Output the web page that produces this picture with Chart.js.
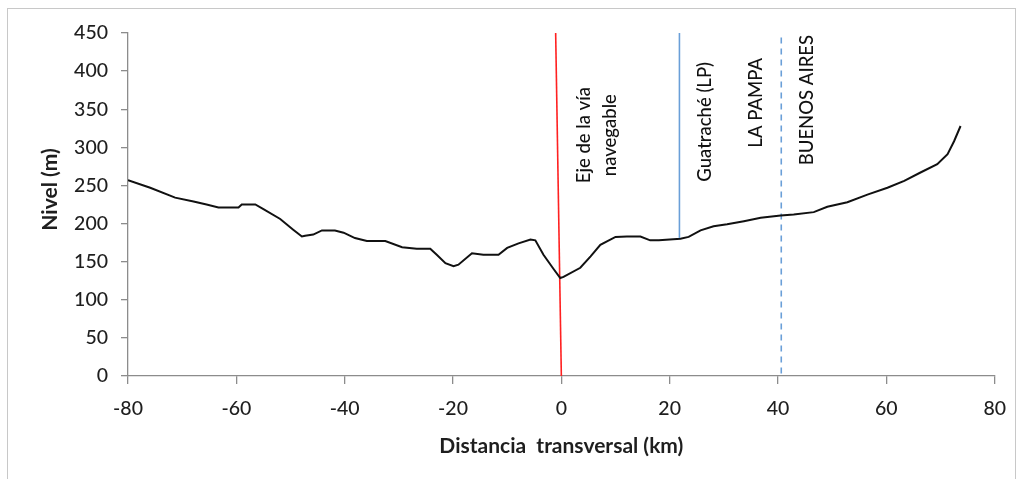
<!DOCTYPE html>
<html>
<head>
<meta charset="utf-8">
<script src="https://cdn.jsdelivr.net/npm/chart.js@4.4.1/dist/chart.umd.min.js"></script>
<style>
  html, body { margin: 0; padding: 0; background: #ffffff; }
  #wrap { width: 1019px; height: 479px; position: relative; }
  canvas { display: block; }
</style>
</head>
<body>
<div id="wrap"><canvas id="c" width="1019" height="479"></canvas></div>
<script>
// Transverse terrain profile (distance in km, level in m)
const distanceKm = [-80, -75.9, -71.3, -67.9, -65.5, -63.3, -59.6, -59, -56.5, -55, -51.9, -49.5, -47.9, -47.3, -45.8, -44.2, -41.8, -40.2, -38.1, -35.9, -32.5, -29.4, -26.7, -24.2, -23, -21.4, -19.9, -19, -16.5, -14.4, -11.6, -10, -7.9, -5.7, -4.8, -3.3, -1.4, -0.2, 0.4, 3.5, 5.4, 7.2, 10, 12.1, 14.6, 16.4, 18, 22, 23.5, 25.7, 28.1, 30.6, 33.7, 36.8, 40.5, 42.9, 46.6, 49.1, 52.8, 56.5, 60.2, 63.3, 66.3, 69.4, 71.3, 72.5, 73.7];
const levelM = [257, 247, 234, 229, 225, 221, 221, 225, 225, 219, 206, 192, 183, 184, 185.5, 191, 191, 188, 181, 177, 177, 169, 167, 167, 159, 148, 144, 146, 161, 159, 159, 168, 174, 179, 178, 159, 140, 128.5, 130, 142, 157, 172, 182.5, 183, 183, 178, 178, 180, 182.5, 191, 196.5, 199, 203, 207.5, 210.5, 212, 215, 222, 228, 238, 247, 256, 267, 278, 291, 308, 328];

// Reference verticals: waterway axis, Guatraché, provincial boundary
const axisLineX = [-1.05, 0];
const axisLineY = [450, 0];
const guatracheX = [21.8, 21.8];
const guatracheY = [450, 180];
const boundaryX = [40.6, 40.6];
const boundaryY = [444, 0];

// Vertical annotations: lines of text, anchor (km, m)
const noteLines = [["Eje de la vía", "navegable"], ["Guatraché (LP)"], ["LA PAMPA"], ["BUENOS AIRES"]];
const noteX = [6.5, 26.6, 36.0, 45.3];
const noteY = [316, 333.5, 358.5, 362];

const xTicks = { min: -80, max: 80, step: 20 };
const yTicks = { min: 0, max: 450, step: 50 };

const xTitle = "Distancia  transversal (km)";
const yTitle = "Nivel (m)";

const toPoints = (xs, ys) => xs.map((x, i) => ({ x: x, y: ys[i] }));

const AXIS_GRAY = '#8c8c8c';
const TEXT = '#1e1e1e';
const FONT = 'Lato, "Open Sans", sans-serif';

const annotate = {
  id: 'annotate',
  beforeDraw(chart) {
    const ctx = chart.ctx;
    ctx.save();
    ctx.fillStyle = '#ffffff';
    ctx.fillRect(0, 0, chart.width, chart.height);
    ctx.strokeStyle = '#c8c8c8';
    ctx.lineWidth = 1;
    ctx.strokeRect(7.5, 8.5, 1008, 475);
    ctx.restore();
  },
  afterDraw(chart) {
    const ctx = chart.ctx;
    const xs = chart.scales.x, ys = chart.scales.y;
    const area = chart.chartArea;
    ctx.save();
    ctx.fillStyle = '#111111';
    ctx.textAlign = 'center';
    ctx.textBaseline = 'middle';
    ctx.font = '500 18.5px ' + FONT;
    const lineGap = 26;
    noteLines.forEach((lines, i) => {
      const px = xs.getPixelForValue(noteX[i]);
      const py = ys.getPixelForValue(noteY[i]);
      ctx.save();
      ctx.translate(px, py);
      ctx.rotate(-Math.PI / 2);
      lines.forEach((t, j) => {
        const off = (j - (lines.length - 1) / 2) * lineGap;
        ctx.fillText(t, 0, off);
      });
      ctx.restore();
    });
    // axis titles
    ctx.fillStyle = TEXT;
    ctx.font = 'bold 21px ' + FONT;
    ctx.fillText(xTitle, (area.left + area.right) / 2, area.bottom + 70);
    ctx.save();
    ctx.translate(50, (area.top + area.bottom) / 2 - 15);
    ctx.rotate(-Math.PI / 2);
    ctx.fillText(yTitle, 0, 0);
    ctx.restore();
    ctx.restore();
  }
};

new Chart(document.getElementById('c'), {
  type: 'scatter',
  data: {
    datasets: [
      { data: toPoints(distanceKm, levelM), showLine: true, borderColor: '#111111', borderWidth: 2, pointRadius: 0, tension: 0 },
      { data: toPoints(axisLineX, axisLineY), showLine: true, borderColor: '#ff2020', borderWidth: 1.6, pointRadius: 0 },
      { data: toPoints(guatracheX, guatracheY), showLine: true, borderColor: '#6a9fd8', borderWidth: 1.6, pointRadius: 0 },
      { data: toPoints(boundaryX, boundaryY), showLine: true, borderColor: '#6a9fd8', borderWidth: 1.6, borderDash: [6, 5], pointRadius: 0 }
    ]
  },
  options: {
    responsive: false,
    animation: false,
    devicePixelRatio: 1,
    layout: { padding: { left: 0, top: 33, right: 24, bottom: 0 } },
    plugins: { legend: { display: false }, tooltip: { enabled: false } },
    scales: {
      x: {
        type: 'linear', min: xTicks.min, max: xTicks.max,
        afterFit(s) { s.height = 103; },
        ticks: { stepSize: xTicks.step, color: TEXT, font: { family: FONT, size: 19.5, weight: '500' }, padding: 13 },
        grid: { drawOnChartArea: false, drawTicks: true, tickLength: 8, tickColor: AXIS_GRAY, lineWidth: 1.3 },
        border: { color: AXIS_GRAY, width: 1.3 }
      },
      y: {
        type: 'linear', min: yTicks.min, max: yTicks.max,
        afterFit(s) { s.width = 128; },
        ticks: { stepSize: yTicks.step, color: TEXT, font: { family: FONT, size: 19.5, weight: '500' }, padding: 13 },
        grid: { drawOnChartArea: false, drawTicks: true, tickLength: 7, tickColor: AXIS_GRAY, lineWidth: 1.3 },
        border: { color: AXIS_GRAY, width: 1.3 }
      }
    }
  },
  plugins: [annotate]
});
</script>
</body>
</html>
